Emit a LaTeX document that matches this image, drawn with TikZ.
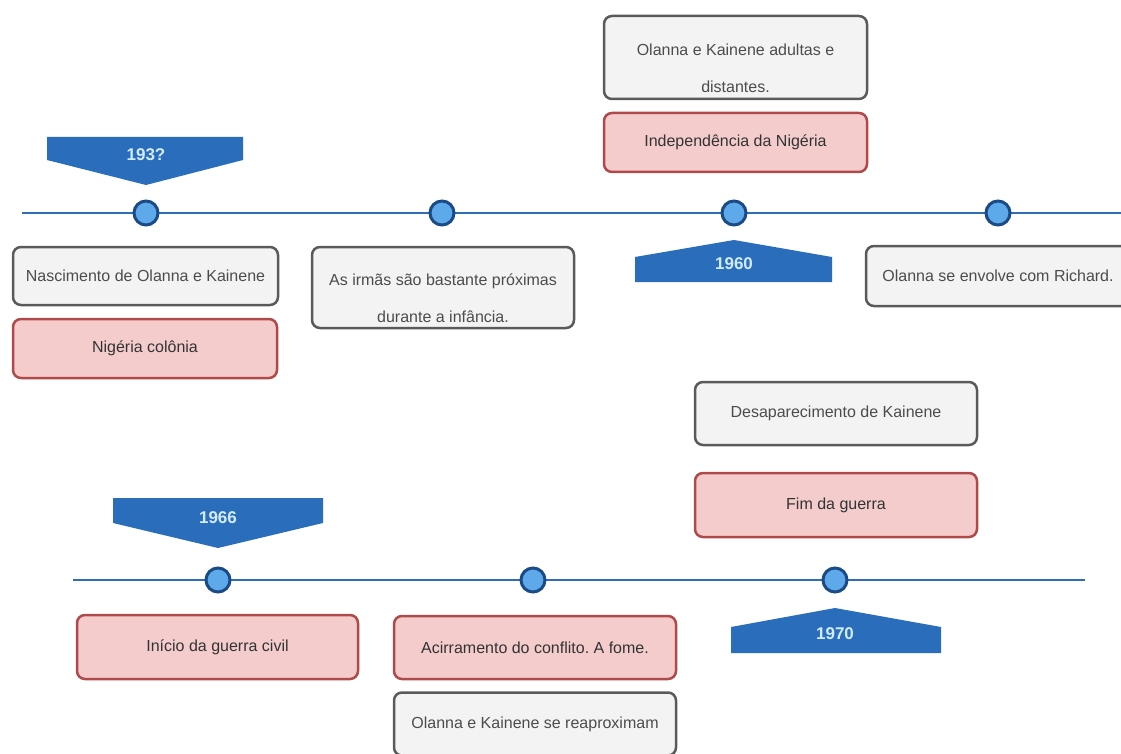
\documentclass[tikz,border=0pt]{standalone}
\usepackage{fontspec}
\setmainfont{Liberation Sans}
\definecolor{linecol}{HTML}{2F6DB5}
\definecolor{dotfill}{HTML}{5DA9E9}
\definecolor{dotdraw}{HTML}{1A4B87}
\definecolor{bannercol}{HTML}{2A6EBB}
\definecolor{yearcol}{HTML}{D2EBFF}
\definecolor{grayfill}{HTML}{F3F3F3}
\definecolor{graydraw}{HTML}{5A5A5A}
\definecolor{redfill}{HTML}{F4CCCC}
\definecolor{reddraw}{HTML}{B04A4A}
\frenchspacing

\begin{document}
\begin{tikzpicture}[x=1pt, y=-1pt]
                \tikzset{timeline/.style={draw=linecol, line width=2pt},
                         dot/.style={circle, fill=dotfill, draw=dotdraw, line width=3pt, inner sep=0pt, minimum size=24pt},
                         banner/.style={fill=bannercol},
                         year/.style={text=yearcol, font=\fontsize{17}{20}\bfseries\selectfont},
                         event/.style={rounded corners=8pt, line width=2.5pt, align=center, inner sep=0pt, font=\fontsize{16}{37}\selectfont},
                         twoline/.style={text height=70pt},
                         grayevent/.style={event, fill=grayfill, draw=graydraw, text=black!70},
                         redevent/.style={event, fill=redfill, draw=reddraw, text=black!80}};
                \useasboundingbox (0, 0) rectangle (1121, 754);
                % first line
                \coordinate (topL) at (22, 213);
                \coordinate (topR) at (1125, 213);
                \draw[timeline] (topL) -- (topR);
                \node[dot] (d1) at (146, 213) {};
                \node[dot] (d2) at (442, 213) {};
                \node[dot] (d3) at (734, 213) {};
                \node[dot] (d4) at (998, 213) {};
                \fill[banner] (47, 137) -- (243, 137) -- (243, 160) -- (146, 185) -- (47, 160) -- cycle;
                \node[year] (y1) at (146, 155) {193?};
                \fill[banner] (635, 282) -- (832, 282) -- (832, 257) -- (734, 240) -- (635, 257) -- cycle;
                \node[year] (y2) at (734, 264) {1960};
                \node[grayevent, minimum width=265pt, minimum height=58pt] (nasc) at (145.5, 276) {Nascimento de Olanna e Kainene};
                \node[redevent, minimum width=264pt, minimum height=59pt] (colonia) at (145, 348.5) {Nigéria colônia};
                \node[grayevent, twoline, minimum width=262pt, minimum height=81pt] (irmas) at (443, 287.5) {As irmãs são bastante próximas\\durante a infância.};
                \node[grayevent, twoline, minimum width=263pt, minimum height=83pt] (adultas) at (735.5, 57.5) {Olanna e Kainene adultas e\\distantes.};
                \node[redevent, minimum width=263pt, minimum height=59pt] (indep) at (735.5, 142.5) {Independência da Nigéria};
                \node[grayevent, minimum width=270pt, minimum height=60pt] (richard) at (1001, 276) {\hspace*{-6pt}Olanna se envolve com Richard.};
                % second line
                \coordinate (botL) at (73, 580);
                \coordinate (botR) at (1085, 580);
                \draw[timeline] (botL) -- (botR);
                \node[dot] (d5) at (218, 580) {};
                \node[dot] (d6) at (533, 580) {};
                \node[dot] (d7) at (835, 580) {};
                \fill[banner] (113, 498) -- (323, 498) -- (323, 523) -- (218, 548) -- (113, 523) -- cycle;
                \node[year] (y3) at (218, 518) {1966};
                \fill[banner] (731, 653) -- (941, 653) -- (941, 627) -- (835, 608) -- (731, 627) -- cycle;
                \node[year] (y4) at (835, 634) {1970};
                \node[grayevent, minimum width=282pt, minimum height=63pt] (desap) at (836, 413.5) {Desaparecimento de Kainene};
                \node[redevent, minimum width=282pt, minimum height=64pt] (fim) at (836, 505) {Fim da guerra};
                \node[redevent, minimum width=281pt, minimum height=64pt] (inicio) at (217.5, 647) {Início da guerra civil};
                \node[redevent, minimum width=282pt, minimum height=63pt] (acirr) at (535, 647.5) {Acirramento do conflito. A fome.};
                \node[grayevent, minimum width=282pt, minimum height=63pt] (reapr) at (535, 724) {Olanna e Kainene se reaproximam};
            \end{tikzpicture}
\end{document}
